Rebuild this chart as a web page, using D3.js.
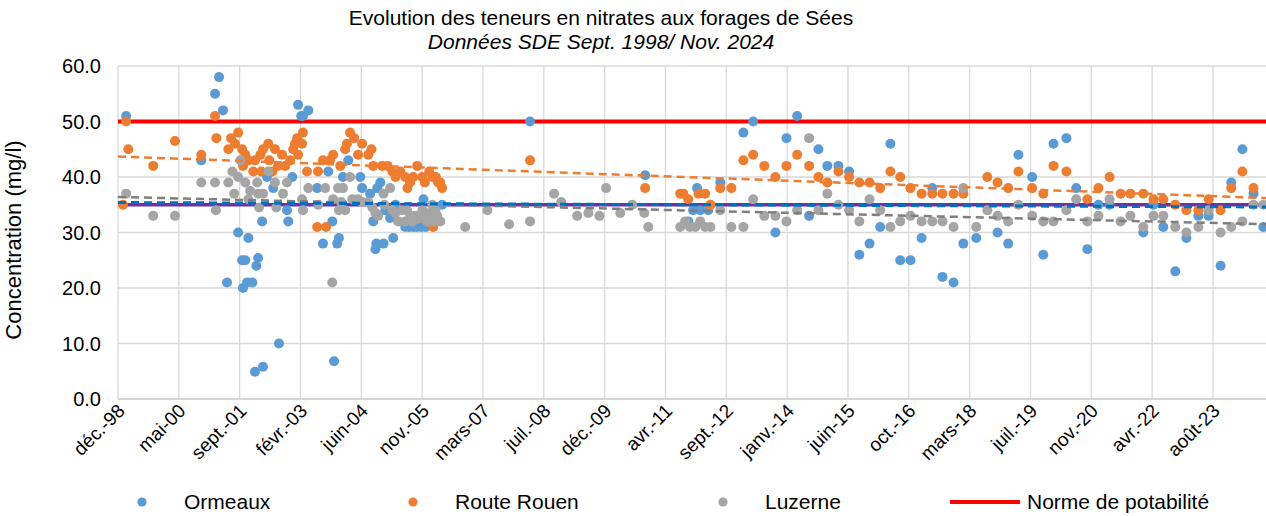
<!DOCTYPE html>
<meta charset="utf-8">
<title>Nitrates forages de Sées</title>
<body style="margin:0;background:#fff">
<div id="chart"></div>
<script src="https://d3js.org/d3.v7.min.js"></script>
<script>

// dates en années décimales, teneurs en mg/l
var ormeaux = [
  [1999.18,51],[2000.87,43],[2001.18,55],[2001.27,58],[2001.36,52],[2001.45,21],[2001.70,30],
  [2001.79,25],[2001.81,20],[2001.86,25],[2001.90,21],[2001.93,29],[2002.02,21],[2002.08,4.9],
  [2002.11,24],[2002.15,25.4],[2002.24,32],[2002.26,5.8],[2002.35,40],[2002.49,38],[2002.62,10],
  [2002.80,34],[2002.83,32],[2002.92,40],[2003.05,53],[2003.12,51],[2003.16,51],[2003.28,52],
  [2003.48,38],[2003.61,28],[2003.73,41],[2003.82,32],[2003.86,6.8],[2003.93,28],[2003.97,29],
  [2004.06,40],[2004.18,43],[2004.45,40],[2004.49,38],[2004.67,37],[2004.74,32],[2004.79,27],
  [2004.81,28],[2004.83,38],[2004.90,39],[2004.97,28],[2005.01,34],[2005.12,32.6],[2005.19,29],
  [2005.24,35],[2005.46,31],[2005.55,31],[2005.64,31],[2005.72,31],[2005.82,31],[2005.87,36],
  [2005.92,31],[2006.05,31.5],[2006.29,35],[2008.27,50],
  [2010.86,40.3],[2011.83,32],[2011.94,34],[2012.03,38],[2012.10,34],[2012.28,34],[2012.55,39],
  [2013.07,48],[2013.29,50],[2013.79,30],[2014.04,47],[2014.28,51],[2014.55,33],[2014.76,45],
  [2014.96,42],[2015.21,42],[2015.45,41],[2015.68,26],[2015.91,28],[2016.15,31],[2016.38,46],
  [2016.60,25],[2016.83,25],[2017.08,29],[2017.32,38],[2017.55,22],[2017.80,21],[2018.02,28],
  [2018.31,29],[2018.79,30],[2019.03,28],[2019.26,44],[2019.57,40],[2019.82,26],[2020.05,46],
  [2020.34,47],[2020.56,38],[2020.81,27],[2021.06,35],[2021.31,35],[2022.07,30],[2022.30,35],
  [2022.52,31],[2022.79,23],[2023.04,29],[2023.31,33],[2023.54,33],[2023.81,24],[2024.05,39],
  [2024.30,45],[2024.55,37],[2024.77,31]
];

var routeRouen = [
  [1999.11,35],[1999.18,50],[1999.23,45],[1999.79,42],[2000.28,46.5],[2000.87,44],[2001.18,51],
  [2001.21,47],[2001.48,45],[2001.54,47],[2001.63,46],[2001.70,48],[2001.79,45],[2001.81,42],
  [2001.86,44],[2001.93,43],[2002.04,41],[2002.08,43],[2002.20,44],[2002.22,41],[2002.26,45],
  [2002.38,46],[2002.40,43],[2002.47,41],[2002.53,45],[2002.60,42],[2002.69,44],[2002.76,42],
  [2002.87,43],[2002.94,45],[2002.98,46],[2003.03,47],[2003.05,44],[2003.14,46],[2003.16,48],
  [2003.25,41],[2003.48,31],[2003.50,41],[2003.61,43],[2003.68,31],[2003.77,43],[2003.84,44],
  [2004.00,42],[2004.11,45],[2004.15,46],[2004.22,48],[2004.31,47],[2004.40,44],[2004.49,46],
  [2004.63,44],[2004.70,45],[2004.74,42],[2004.94,42],[2005.06,42],[2005.17,41],[2005.24,40],
  [2005.35,41],[2005.46,40],[2005.51,38],[2005.57,39],[2005.64,40],[2005.73,42],[2005.84,40],
  [2005.90,39],[2006.00,41],[2006.07,40],[2006.09,31],[2006.15,40],
  [2006.20,39],[2006.25,39],[2006.29,38],[2008.27,43],[2010.86,38],[2011.65,37],[2011.72,37],[2011.83,36],
  [2012.06,37],[2012.21,37],[2012.33,35],[2012.55,38],[2012.80,38],[2013.07,43],[2013.29,44],
  [2013.54,42],[2013.79,40],[2014.04,42],[2014.28,44],[2014.55,42],[2014.76,40],[2014.96,39],
  [2015.21,41],[2015.45,40],[2015.68,39],[2015.91,39],[2016.15,38],[2016.38,41],[2016.60,40],
  [2016.83,38],[2017.08,37],[2017.32,37],[2017.55,37],[2017.80,37],[2018.02,37],[2018.56,40],
  [2018.79,39],[2019.03,38],[2019.26,41],[2019.57,38],[2019.82,37],[2020.05,42],[2020.34,41],
  [2020.81,36],[2021.06,38],[2021.31,40],[2021.56,37],[2021.78,37],[2022.07,37],[2022.30,36],
  [2022.52,36],[2022.79,35],[2023.04,34],[2023.31,34],[2023.54,36],[2023.81,34],[2024.05,38],
  [2024.30,41],[2024.55,38]
];

var luzerne = [
  [1999.18,37],[1999.79,33],[2000.28,33],[2000.87,39],[2001.18,39],[2001.20,34],[2001.48,39],
  [2001.57,41],[2001.61,37],[2001.70,40],[2001.75,43],[2001.86,39],[2001.93,36],[2001.97,37.5],
  [2002.13,39],[2002.15,37],[2002.17,34.5],[2002.26,37],[2002.38,41],[2002.53,39],[2002.56,34.5],
  [2002.71,37],[2002.80,39],[2003.14,36],[2003.16,34],[2003.28,38],[2003.50,35],[2003.66,38],
  [2003.82,21],[2003.84,36],[2003.95,38],[2003.97,34],[2004.02,35.5],[2004.06,38],[2004.11,34],
  [2004.22,40],[2004.27,36],[2004.40,36],[2004.49,35.5],[2004.63,35.5],[2004.72,34.5],[2004.79,33.5],
  [2004.85,33],[2004.97,37],[2004.99,35],[2005.12,38],[2005.17,34],[2005.24,33.5],[2005.30,32],
  [2005.39,34],[2005.46,32],[2005.50,34],[2005.57,33],[2005.62,32],[2005.69,33],[2005.75,32.5],
  [2005.80,33],[2005.85,34],[2005.91,33.5],[2005.95,32],[2006.02,33.5],[2006.07,35],[2006.10,32],
  [2006.14,34],[2006.18,33],[2006.25,32],[2006.81,31],[2007.31,34],[2007.80,31.5],[2008.27,32],[2008.81,37],
  [2008.97,35.5],[2009.33,33],[2009.58,33.5],[2009.83,33],[2009.98,38],[2010.30,33.5],[2010.57,35],
  [2010.84,33.5],[2010.93,31],[2011.65,31],[2011.76,32],[2011.87,31],[2011.99,31],[2012.10,32],
  [2012.21,31],[2012.33,31],[2012.55,34],[2012.80,31],[2013.07,31],[2013.29,36],[2013.54,33],
  [2013.79,33],[2014.04,32],[2014.28,34],[2014.55,47],[2014.76,34],[2014.96,37],[2015.21,35],
  [2015.45,34],[2015.68,32],[2015.91,36],[2016.15,34],[2016.38,31],[2016.60,32],[2016.83,33],
  [2017.08,32],[2017.32,32],[2017.55,32],[2017.80,31],[2018.02,38],[2018.31,31],[2018.56,34],
  [2018.79,33],[2019.03,32],[2019.26,35],[2019.57,33],[2019.82,32],[2020.05,32],[2020.34,34],
  [2020.56,36],[2020.81,32],[2021.06,33],[2021.31,36],[2021.56,32],[2021.78,33],[2022.07,31],
  [2022.30,33],[2022.52,33],[2022.79,31],[2023.04,30],[2023.31,31],[2023.54,34],[2023.81,30],
  [2024.05,31],[2024.30,32],[2024.55,35],[2024.77,35]
];

var norme = 50;
var seuil = 35;
// tendances linéaires : valeur au début et à la fin de l'axe
var tendOrmeaux = [35.4, 34.6];
var tendRouen = [43.7, 36.2];
var tendLuzerne = [36.4, 31.5];

var yTicks = [0, 10, 20, 30, 40, 50, 60];
var moisFr = ["janv.", "févr.", "mars", "avr.", "mai", "juin", "juil.", "août", "sept.", "oct.", "nov.", "déc."];

var width = 1266, height = 516;
var gauche = 118, droite = 1266, haut = 66, bas = 399;

var svg = d3.select("#chart")
  .append("svg")
    .attr("width", width)
    .attr("height", height)
    .style("font-family", "'Liberation Sans', Arial, sans-serif");

function versDate(an) {
  var a = Math.floor(an);
  var d0 = new Date(a, 0, 1), d1 = new Date(a + 1, 0, 1);
  return new Date(+d0 + (an - a) * (d1 - d0));
}

var debut = new Date(1998, 11, 31);
var fin = d3.timeDay.offset(debut, 9436);
var xTicks = d3.range(0, 9001, 500).map(function(j) { return d3.timeDay.offset(debut, j); });

var x = d3.scaleTime().domain([debut, fin]).range([gauche, droite]);
var y = d3.scaleLinear().domain([0, 60]).range([bas, haut]);

// grille
svg.append("g").selectAll("line")
  .data(yTicks.slice(1))
  .enter().append("line")
    .attr("x1", gauche).attr("x2", droite)
    .attr("y1", function(d) { return y(d); })
    .attr("y2", function(d) { return y(d); })
    .attr("stroke", "#d9d9d9").attr("stroke-width", 1.3);

svg.append("g").selectAll("line")
  .data(xTicks)
  .enter().append("line")
    .attr("x1", function(d) { return x(d); })
    .attr("x2", function(d) { return x(d); })
    .attr("y1", haut).attr("y2", bas)
    .attr("stroke", "#d9d9d9").attr("stroke-width", 1.3);

svg.append("line")
  .attr("x1", gauche).attr("x2", droite)
  .attr("y1", y(0)).attr("y2", y(0))
  .attr("stroke", "#c9c9c9").attr("stroke-width", 1.3);

// axe y
svg.append("g").selectAll("text")
  .data(yTicks)
  .enter().append("text")
    .attr("x", 101)
    .attr("y", function(d) { return y(d); })
    .attr("dy", "0.35em")
    .attr("text-anchor", "end")
    .style("font-size", "20px")
    .text(function(d) { return d.toFixed(1); });

// axe x
svg.append("g").selectAll("text")
  .data(xTicks)
  .enter().append("text")
    .attr("transform", function(d) { return "translate(" + (x(d) + 8) + "," + 412 + ") rotate(-45)"; })
    .attr("text-anchor", "end")
    .style("font-size", "19px")
    .text(function(d) { return moisFr[d.getMonth()] + "-" + d3.timeFormat("%y")(d); });

// lignes horizontales
svg.append("line")
  .attr("x1", gauche).attr("x2", droite)
  .attr("y1", y(norme)).attr("y2", y(norme))
  .attr("stroke", "#ff0000").attr("stroke-width", 4);

svg.append("line")
  .attr("x1", gauche).attr("x2", droite)
  .attr("y1", y(seuil)).attr("y2", y(seuil))
  .attr("stroke", "#7030a0").attr("stroke-width", 3.5);

// points
function points(data, color) {
  svg.append("g").selectAll("circle")
    .data(data)
    .enter().append("circle")
      .attr("cx", function(d) { return x(versDate(d[0])); })
      .attr("cy", function(d) { return y(d[1]); })
      .attr("r", 5)
      .style("fill", color);
}
points(ormeaux, "#5b9bd5");
points(routeRouen, "#ed7d31");
points(luzerne, "#a5a5a5");

// tendances
function tendance(v, color, w) {
  svg.append("line")
    .attr("x1", x(debut)).attr("x2", x(fin))
    .attr("y1", y(v[0])).attr("y2", y(v[1]))
    .attr("stroke", color).attr("stroke-width", w)
    .attr("stroke-dasharray", "8,5");
}
tendance(tendRouen, "#ed7d31", 2.5);
tendance(tendLuzerne, "#7f7f7f", 2.5);
tendance(tendOrmeaux, "#0070c0", 3);

// titres
svg.append("text")
  .attr("x", 601).attr("y", 25)
  .attr("text-anchor", "middle")
  .style("font-size", "21px")
  .text("Evolution des teneurs en nitrates aux forages de Sées");
svg.append("text")
  .attr("x", 601).attr("y", 49)
  .attr("text-anchor", "middle")
  .style("font-size", "21px")
  .style("font-style", "italic")
  .text("Données SDE Sept. 1998/ Nov. 2024");

svg.append("text")
  .attr("transform", "translate(21,240) rotate(-90)")
  .attr("text-anchor", "middle")
  .style("font-size", "22px")
  .text("Concentration (mg/l)");

// légende
var legende = [
  {nom: "Ormeaux", couleur: "#5b9bd5", x: 142},
  {nom: "Route Rouen", couleur: "#ed7d31", x: 413},
  {nom: "Luzerne", couleur: "#a5a5a5", x: 723}
];
var lg = svg.append("g");
legende.forEach(function(l) {
  lg.append("circle").attr("cx", l.x).attr("cy", 502).attr("r", 4.6).style("fill", l.couleur);
  lg.append("text").attr("x", l.x + 42).attr("y", 509).style("font-size", "21px").text(l.nom);
});
lg.append("line").attr("x1", 950).attr("x2", 1020).attr("y1", 502).attr("y2", 502)
  .attr("stroke", "#ff0000").attr("stroke-width", 4);
lg.append("text").attr("x", 1027).attr("y", 509).style("font-size", "21px").text("Norme de potabilité");

</script>
